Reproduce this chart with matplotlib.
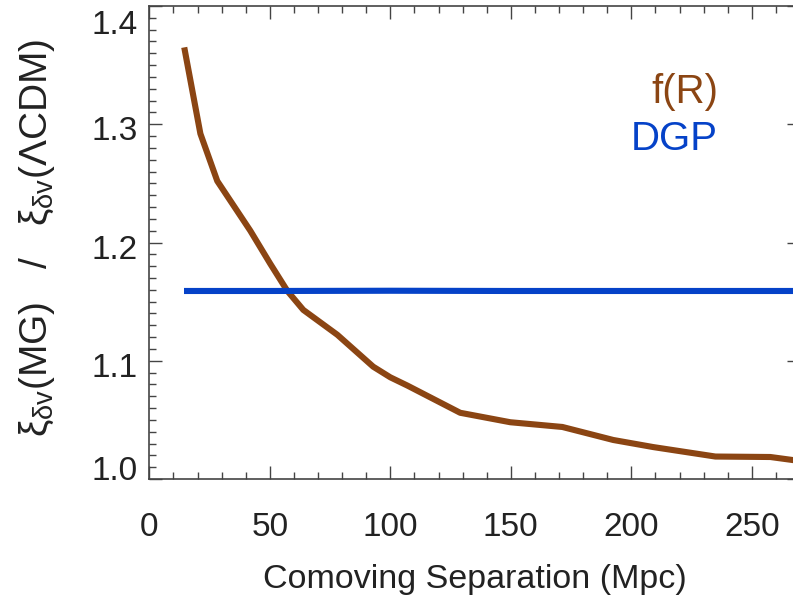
import numpy as np
import matplotlib
matplotlib.use('Agg')
import matplotlib.pyplot as plt
import matplotlib.transforms as mtransforms

# ratio of the velocity-density correlation, modified gravity / LCDM
sep_fr = [14.5, 21.2, 28.2, 41.9, 50.2, 57.3, 63.9, 78.0, 92.9, 100.0, 107.1,
          129.0, 149.8, 171.4, 192.5, 209.1, 234.9, 257.7, 278.0]
ratio_fr = [1.365, 1.292, 1.252, 1.210, 1.182, 1.159, 1.143, 1.122, 1.095, 1.086,
            1.079, 1.056, 1.048, 1.044, 1.033, 1.027, 1.019, 1.0186, 1.013]

sep_dgp = [14.4, 50.0, 100.0, 150.0, 200.0, 250.0, 290.0]
ratio_dgp = [1.159, 1.159, 1.1592, 1.159, 1.159, 1.159, 1.159]

x_ticks = [0, 50, 100, 150, 200, 250]
y_ticks = [1.0, 1.1, 1.2, 1.3, 1.4]
# vertical nudge of each y tick label in pixels (IDL keeps the end labels inside)
y_label_shift = [10.5, -4, -4, -4, -16]

brown = '#8B4513'
blue = '#0542C8'
ink = '#222222'

plt.rcParams['font.family'] = ['Liberation Sans', 'DejaVu Sans']
plt.rcParams['mathtext.fontset'] = 'custom'
plt.rcParams['mathtext.rm'] = 'Liberation Sans'
plt.rcParams['mathtext.it'] = 'Liberation Sans'

fig = plt.figure(figsize=(7.93, 6.0), dpi=100)
# axes run a little past the right edge of the picture, as in the original
ax = fig.add_axes([149.3 / 793, 1 - 479 / 600, 650.7 / 793, 473 / 600])

ax.plot(sep_fr, ratio_fr, color=brown, lw=4.4, solid_capstyle='butt', solid_joinstyle='round')
ax.plot(sep_dgp, ratio_dgp, color=blue, lw=4.4, solid_capstyle='butt')

ax.set_xlim(0, 270)
ax.set_ylim(1.0, 1.4)
ax.set_xticks(x_ticks)
ax.set_yticks(y_ticks)
ax.set_xticks(np.arange(0, 271, 10), minor=True)
ax.set_yticks(np.arange(1.0, 1.401, 0.01), minor=True)
ax.set_yticklabels(['%.1f' % v for v in y_ticks])

ax.tick_params(which='both', direction='in', top=True, right=True, color='#444444', width=1.0)
ax.tick_params(which='major', length=9.5)
ax.tick_params(which='minor', length=5)
ax.tick_params(axis='x', which='major', labelsize=24, labelcolor=ink, pad=24)
ax.tick_params(axis='y', which='major', labelsize=24, labelcolor=ink, pad=8.5)
for sp in ax.spines.values():
    sp.set_color('#444444')
    sp.set_linewidth(1.2)

for lab, dy in zip(ax.get_yticklabels(), y_label_shift):
    off = mtransforms.ScaledTranslation(0, dy / 100.0, fig.dpi_scale_trans)
    lab.set_transform(lab.get_transform() + off)

ax.set_xlabel('Comoving Separation (Mpc)', fontsize=24.5, color=ink)
ax.xaxis.set_label_coords(0.5, -0.18)
ax.set_ylabel(r'$\xi_{\delta v}(\mathrm{MG})$   /   $\xi_{\delta v}(\Lambda\mathrm{CDM})$',
              fontsize=28, color=ink)
ax.yaxis.set_label_coords(-0.142, 0.51)

ax.text(0.874, 0.795, 'f(R)', transform=ax.transAxes, color=brown, fontsize=29,
        ha='right', va='baseline')
ax.text(0.874, 0.696, 'DGP', transform=ax.transAxes, color=blue, fontsize=29,
        ha='right', va='baseline')

fig.savefig('out.png', dpi=100)
